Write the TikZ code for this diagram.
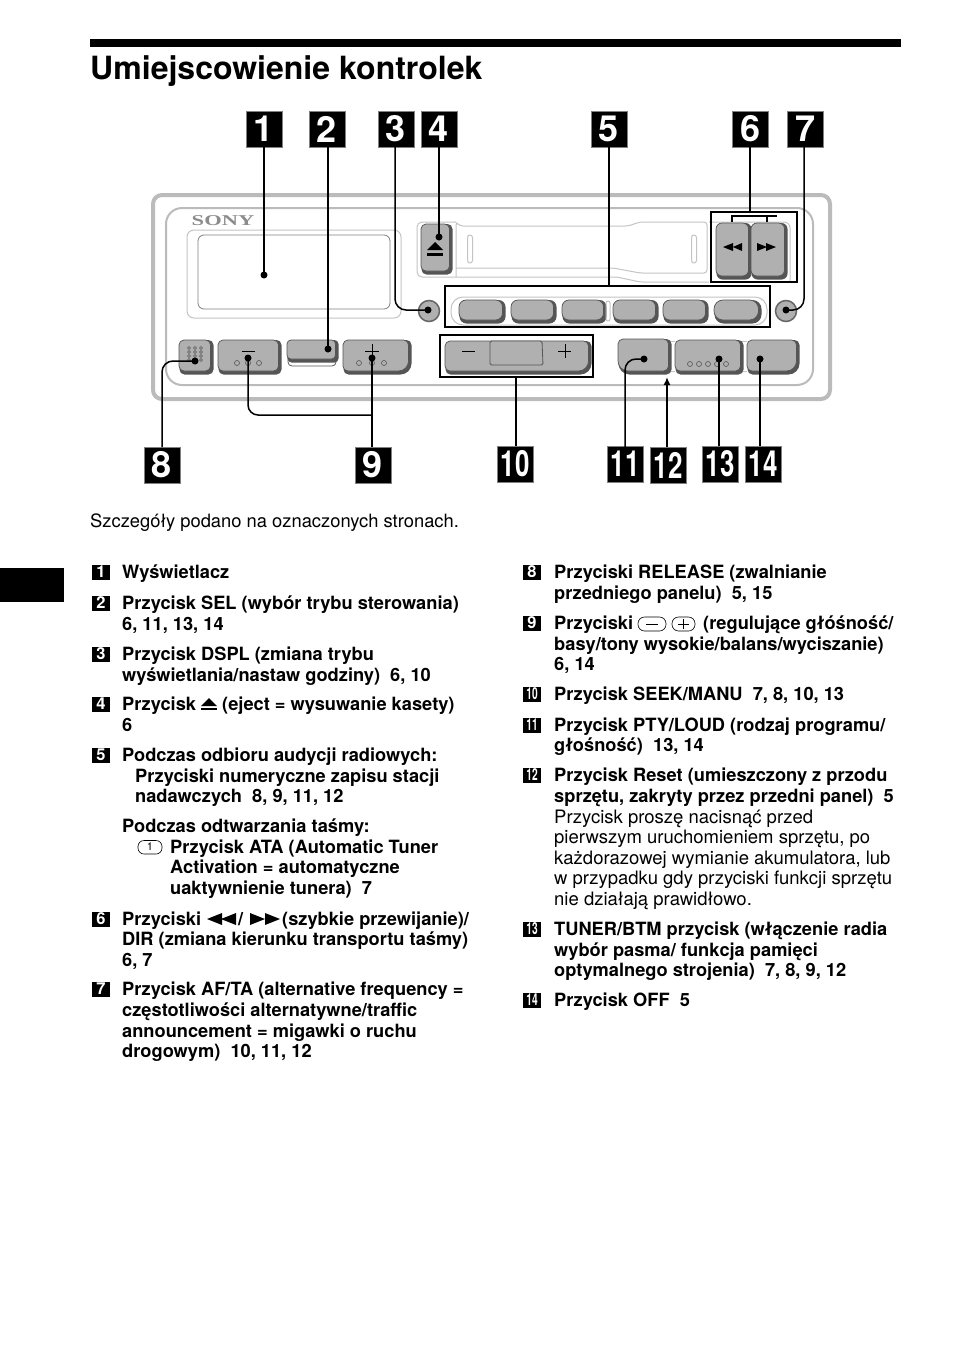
\documentclass[tikz,border=0pt]{standalone}
\usepackage{fontspec}
\usetikzlibrary{arrows.meta}
\setmainfont{TeX Gyre Heros}
\newfontfamily\sonyfont{Liberation Serif}
\definecolor{btn}{HTML}{B0B0B0}
\definecolor{btnd}{HTML}{555555}
\definecolor{frm}{HTML}{BBBBBB}
\definecolor{lgt}{HTML}{C4C4C4}
\newcommand{\bigkey}[4]{\node[bigkeybox] (#1) at (#2,#3) {#4};}
\newcommand{\btn}[5][3]{%
 \fill[btnd,rounded corners=#1pt] (#2+.5,#3) rectangle (#4+.5,#5+.5);
 \fill[btn,draw=btnd,line width=.7pt,rounded corners=#1pt] (#2,#3) rectangle (#4-2.5,#5-3);}
% button with a large bottom-right corner
\newcommand{\btnbr}[4]{%
 \fill[btnd,rounded corners=5pt] (#1+.5,#2) -- (#3+.5,#2) [rounded corners=11pt] -- (#3+.5,#4+.5) [rounded corners=5pt] -- (#1+.5,#4+.5) -- cycle;
 \fill[btn,draw=btnd,line width=.7pt,rounded corners=5pt] (#1,#2) -- (#3-2.5,#2) [rounded corners=10pt] -- (#3-2.5,#4-3) [rounded corners=5pt] -- (#1,#4-3) -- cycle;}
% button with a large bottom-left corner
\newcommand{\btnbl}[4]{%
 \fill[btnd,rounded corners=5pt] (#1+.5,#2) -- (#3+.5,#2) -- (#3+.5,#4+.5) [rounded corners=11pt] -- (#1+.5,#4+.5) [rounded corners=5pt] -- cycle;
 \fill[btn,draw=btnd,line width=.7pt,rounded corners=5pt] (#1,#2) -- (#3-2.5,#2) -- (#3-2.5,#4-3) [rounded corners=10pt] -- (#1,#4-3) [rounded corners=5pt] -- cycle;}
\tikzset{
 x=1pt,y=-1pt,
 bigkeybox/.style={fill=black,draw=gray,line width=.4pt,minimum width=36pt,minimum height=36pt,inner sep=0pt,text=white,font=\fontsize{36}{36}\selectfont\bfseries},
 smallkey/.style={fill=black,minimum width=18pt,minimum height=15pt,inner sep=0pt,text=white,anchor=center,font=\fontsize{16.5}{15}\selectfont\bfseries},
 bt/.style={anchor=base west,inner sep=0pt,font=\fontsize{18.25}{20}\selectfont\bfseries},
 rt/.style={anchor=base west,inner sep=0pt,font=\fontsize{18.5}{20}\selectfont},
 leader/.style={line width=1.5pt,black},
 frame/.style={draw=black,line width=2pt},
 thin line/.style={draw=lgt,line width=1pt},
 dotpt/.style={circle,fill=black,inner sep=0pt,minimum size=7pt},
 hole/.style={circle,draw=btnd,line width=.6pt,inner sep=0pt,minimum size=5pt},
}
\begin{document}
\begin{tikzpicture}
\useasboundingbox (0,0) rectangle (954,1352);
\fill[white] (0,0) rectangle (954,1352);
\fill[black] (90,39) rectangle (901,47);
\fill[black] (0,568) rectangle (64,602);
\node[anchor=base west,inner sep=0pt,font=\fontsize{32}{32}\selectfont\bfseries] (title) at (90,79) {Umiejscowienie kontrolek};
% body
\draw[frm,line width=4pt,rounded corners=9pt] (153,195) rectangle (830,399);
\draw[frm,line width=2pt,rounded corners=16pt] (166,208) rectangle (813,385);
\node[anchor=center,inner sep=0pt,text=black!45,font=\sonyfont\fontsize{15}{15}\selectfont\bfseries] (sony) at (223,221) {\scalebox{1.5}[1]{SONY}};
\draw[thin line,rounded corners=7pt] (187,230) rectangle (401,318);
\draw[draw=gray,line width=.8pt,rounded corners=6pt] (198,235) rectangle (390,309);
% door
\draw[thin line,rounded corners=5pt] (456,222) -- (417,222) -- (417,277) -- (456,277);
\draw[thin line,rounded corners=3pt] (456,277) -- (456,222) -- (460,226) -- (628,226) -- (640,222) -- (707,222) -- (707,273) -- (640,273) -- (613,268) -- (456,268);
\draw[thin line,rounded corners=3pt] (456,277) -- (617,277) -- (640,282) -- (709,282);
\draw[thin line,rounded corners=2.5pt] (467.5,235) rectangle (472.5,263);
\draw[thin line,rounded corners=2.5pt] (691.5,235) rectangle (696.5,263);
\draw[thin line,rounded corners=6pt] (709,222) -- (790,222) -- (790,282);
% eject
\btn[5]{421}{224}{452}{274}
\fill[black] (427,250) -- (435,242) -- (443,250) -- cycle;
\fill[black] (427,253) rectangle (443,256);
% preset
\draw[thin line,rounded corners=12pt] (451,297) rectangle (767,325);
\btn[7]{459}{300}{505}{323}
\btn[7]{511}{300}{556}{323}
\btn[7]{562}{300}{606}{323}
\draw[thin line,rounded corners=2pt] (606,301) rectangle (610,321);
\btn[7]{613}{300}{658}{323}
\btn[7]{663}{300}{708}{323}
\btn[9]{714}{300}{761}{323}
% round buttons
\fill[btn,draw=btnd!90,line width=1.5pt] (429,311) circle (10.5);
\fill[btn,draw=btnd!90,line width=1.5pt] (786,311) circle (10.5);
% rewind
\btn[6]{716}{223}{751}{279}
\btn[6]{751}{223}{787}{279}
\fill[black] (733,243) -- (723,247) -- (733,251) -- cycle (742,243) -- (733,247) -- (742,251) -- cycle;
\fill[black] (757,243) -- (767,247) -- (757,251) -- cycle (766,243) -- (776,247) -- (766,251) -- cycle;
% lower row
\btn[5]{179}{340}{213}{374}
\foreach \px in {189,195,201}{\foreach \py in {348,352,356,360}{\draw[btnd,line width=.5pt] (\px,\py) circle (1.5);}}
\btn[5]{218}{340}{281}{374}
\draw[black,line width=1pt] (242,351) -- (255,351);
\node[hole] (h1) at (237,363) {}; \node[hole] (h2) at (248,363) {}; \node[hole] (h3) at (259,363) {};
\draw[btnd,line width=.8pt,fill=white,rounded corners=4pt] (288,350) rectangle (336,366);
\btn[4]{287}{340}{338}{362}
\btnbr{343}{340}{411}{374}
\draw[black,line width=1pt] (365,351) -- (379,351) (372,344) -- (372,358);
\node[hole] (h4) at (359,363) {}; \node[hole] (h5) at (372,363) {}; \node[hole] (h6) at (384,363) {};
\btnbr{445}{341}{591}{374}
\draw[fill=btn,draw=btnd,line width=.8pt,rounded corners=1.5pt] (490,341) -- (542,341) -- (543,365) -- (490,365) -- cycle;
\draw[black,line width=1pt] (462,351) -- (475,351) (558,351) -- (571,351) (565,344) -- (565,358);
\draw[thin line] (670,341) -- (675,341) (670,371) -- (675,371) (742,341) -- (747,341) (742,371) -- (747,371);
\btnbl{618}{339}{671}{374}
\btn[5]{675}{340}{743}{374}
\btnbr{747}{340}{799}{374}
\foreach \n/\hx in {a/690,b/699,c/708,d/717,e/726}{\node[hole] (hp\n) at (\hx,364) {};}
% frames
\draw[frame] (445,286) rectangle (770,327);
\draw[frame] (440,335) rectangle (593,377);
\draw[frame] (711,212) rectangle (797,282);
\draw[black,line width=1.2pt] (732,222) -- (732,216) -- (777,216) (767,216) -- (767,222);
% big keys
\bigkey{k1}{264}{129}{1}
\bigkey{k2}{327}{129}{2}
\bigkey{k3}{396}{129}{3}
\bigkey{k4}{439}{129}{4}
\bigkey{k5}{609}{129}{5}
\bigkey{k6}{750}{129}{6}
\bigkey{k7}{805}{129}{7}
\bigkey{k8}{162}{465}{8}
\bigkey{k9}{373}{465}{9}
\bigkey{k10}{515}{464}{\scalebox{.72}[1]{10}}
\bigkey{k11}{625}{464}{\scalebox{.72}[1]{11}}
\bigkey{k12}{668}{465}{\scalebox{.72}[1]{12}}
\bigkey{k13}{720}{464}{\scalebox{.72}[1]{13}}
\bigkey{k14}{763}{464}{\scalebox{.72}[1]{14}}
% dots
\node[dotpt] (d1) at (264,275) {};
\node[dotpt] (d2) at (328,349) {};
\node[dotpt] (d3) at (428,310) {};
\node[dotpt] (d4) at (439,237) {};
\node[dotpt] (d7) at (786,310) {};
\node[dotpt] (d8) at (195,361) {};
\node[dotpt] (d9a) at (248,358) {};
\node[dotpt] (d9b) at (372,358) {};
\node[dotpt] (d11) at (644,359) {};
\node[dotpt] (d13) at (719,359) {};
\node[dotpt] (d14) at (760,359) {};
\coordinate (f5) at (609,286);
\coordinate (f6) at (750,212);
\coordinate (f10) at (516,377);
\coordinate (t12) at (667,377);
% leaders
\draw[leader] (k1.south) -- (d1.center);
\draw[leader] (328,147) -- (d2.center);
\draw[leader,rounded corners=11pt] (395,147) -- (395,310) -- (d3.center);
\draw[leader] (439,147) -- (d4.center);
\draw[leader] (k5.south) -- (f5);
\draw[leader,line width=2pt] (k6.south) -- (f6);
\draw[leader,rounded corners=11pt] (804,147) -- (804,310) -- (d7.center);
\draw[leader,rounded corners=11pt] (162,447) -- (162,361) -- (d8.center);
\draw[leader,rounded corners=10pt] (d9a.center) -- (248,415) -- (372,415);
\draw[leader] (d9b.center) -- (372,447);
\draw[leader] (f10) -- (516,446);
\draw[leader,rounded corners=11pt] (625,447) -- (625,359) -- (d11.center);
\draw[leader,line width=2pt,-{Latex[length=8pt,width=7pt]}] (667,447) -- (t12);
\draw[leader] (d13.center) -- (719,446);
\draw[leader,line width=2pt] (d14.center) -- (760,446);
% text
\node[rt,font=\fontsize{18.35}{20}\selectfont] (intro) at (90,527) {Szczegóły podano na oznaczonych stronach.};
\foreach \n/\lab/\yy in {1/1/572,2/2/603,3/3/654,4/4/704,5/5/755,6/6/919,7/7/989}{\node[smallkey] (s\n) at (101,\yy) {\lab};}
\foreach \n/\lab/\yy in {8/8/572,9/9/623}{\node[smallkey] (s\n) at (532,\yy) {\lab};}
\foreach \n/\lab/\yy in {10/10/694,11/11/725,12/12/775,13/13/929,14/14/1000}{\node[smallkey] (s\n) at (532,\yy) {\scalebox{.62}[1]{\lab}};}
\node[bt] (a1) at (122,578) {Wyświetlacz};
\node[bt] (a2a) at (122,609) {Przycisk SEL (wybór trybu sterowania)};
\node[bt] (a2b) at (122,630) {6, 11, 13, 14};
\node[bt] (a3a) at (122,660) {Przycisk DSPL (zmiana trybu};
\node[bt] (a3b) at (122,681) {wyświetlania/nastaw godziny)\ \ 6, 10};
\node[bt] (a4a) at (122,710) {Przycisk};
\fill[black] (201,706) -- (209,698) -- (217,706) -- cycle;
\fill[black] (201,708) rectangle (217,710);
\node[bt] (a4b) at (222,710) {(eject = wysuwanie kasety)};
\node[bt] (a4c) at (122,731) {6};
\node[bt] (a5a) at (122,761) {Podczas odbioru audycji radiowych:};
\node[bt] (a5b) at (135,782) {Przyciski numeryczne zapisu stacji};
\node[bt] (a5c) at (135,802) {nadawczych\ \ 8, 9, 11, 12};
\node[bt] (a5d) at (122,832) {Podczas odtwarzania taśmy:};
\draw[black,line width=.6pt,rounded corners=6pt] (138,840.5) rectangle (162,854);
\node[anchor=center,inner sep=0pt,font=\fontsize{11}{11}\selectfont] (one) at (150,847) {1};
\node[bt] (a5e) at (170,853) {Przycisk ATA (Automatic Tuner};
\node[bt] (a5f) at (170,873) {Activation = automatyczne};
\node[bt] (a5g) at (170,894) {uaktywnienie tunera)\ \ 7};
\node[bt] (a6a) at (122,925) {Przyciski};
\fill[black] (222,913) -- (207,919) -- (222,925) -- cycle (236,913) -- (221,919) -- (236,925) -- cycle;
\node[bt] (a6s) at (238,925) {/};
\fill[black] (250,913) -- (265,919) -- (250,925) -- cycle (265,913) -- (280,919) -- (265,925) -- cycle;
\node[bt] (a6b) at (282,925) {(szybkie przewijanie)/};
\node[bt] (a6c) at (122,945) {DIR (zmiana kierunku transportu taśmy)};
\node[bt] (a6d) at (122,966) {6, 7};
\node[bt] (a7a) at (122,995) {Przycisk AF/TA (alternative frequency =};
\node[bt] (a7b) at (122,1016) {częstotliwości alternatywne/traffic};
\node[bt] (a7c) at (122,1037) {announcement = migawki o ruchu};
\node[bt] (a7d) at (122,1057) {drogowym)\ \ 10, 11, 12};
\node[bt] (b8a) at (554,578) {Przyciski RELEASE (zwalnianie};
\node[bt] (b8b) at (554,599) {przedniego panelu)\ \ 5, 15};
\node[bt] (b9a) at (554,629) {Przyciski};
\draw[black,line width=.6pt,rounded corners=6.5pt] (638,617) rectangle (666,631);
\draw[black,line width=.6pt,rounded corners=6.5pt] (672,617) rectangle (695,631);
\draw[black,line width=.7pt] (646,624) -- (658,624) (678,624) -- (689,624) (683.5,619) -- (683.5,629);
\node[bt] (b9b) at (703,629) {(regulujące głóśność/};
\node[bt] (b9c) at (554,650) {basy/tony wysokie/balans/wyciszanie)};
\node[bt] (b9d) at (554,670) {6, 14};
\node[bt] (b10) at (554,700) {Przycisk SEEK/MANU\ \ 7, 8, 10, 13};
\node[bt] (b11a) at (554,731) {Przycisk PTY/LOUD (rodzaj programu/};
\node[bt] (b11b) at (554,751) {głośność)\ \ 13, 14};
\node[bt] (b12a) at (554,781) {Przycisk Reset (umieszczony z przodu};
\node[bt] (b12b) at (554,802) {sprzętu, zakryty przez przedni panel)\ \ 5};
\node[rt] (b12c) at (554,823) {Przycisk proszę nacisnąć przed};
\node[rt] (b12d) at (554,843) {pierwszym uruchomieniem sprzętu, po};
\node[rt] (b12e) at (554,864) {każdorazowej wymianie akumulatora, lub};
\node[rt] (b12f) at (554,884) {w przypadku gdy przyciski funkcji sprzętu};
\node[rt] (b12g) at (554,905) {nie działają prawidłowo.};
\node[bt] (b13a) at (554,935) {TUNER/BTM przycisk (włączenie radia};
\node[bt] (b13b) at (554,956) {wybór pasma/ funkcja pamięci};
\node[bt] (b13c) at (554,976) {optymalnego strojenia)\ \ 7, 8, 9, 12};
\node[bt] (b14) at (554,1006) {Przycisk OFF\ \ 5};
\end{tikzpicture}
\end{document}
